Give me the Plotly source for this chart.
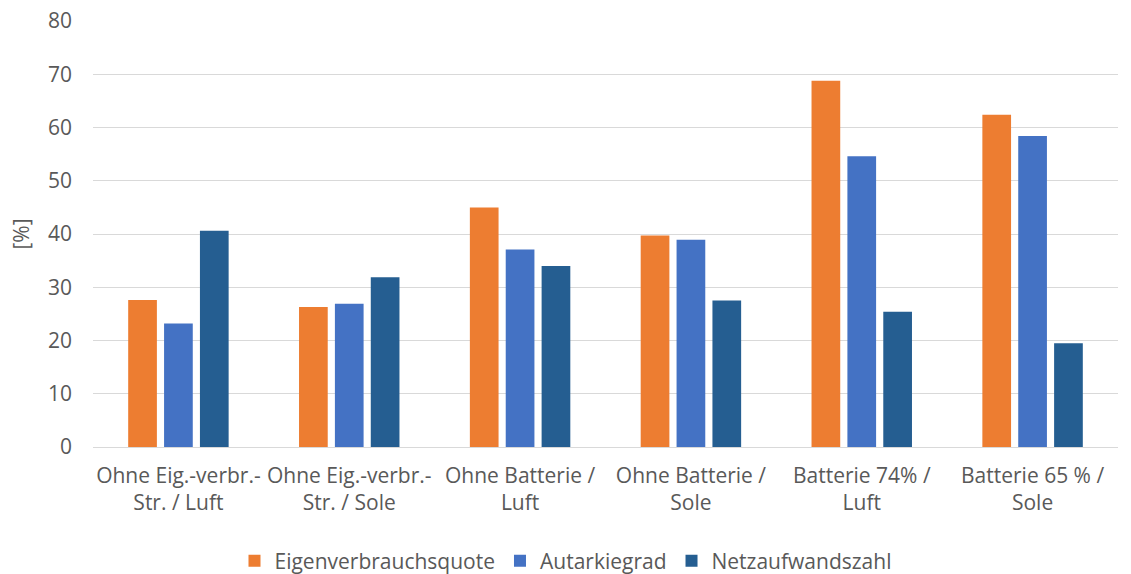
import plotly.graph_objects as go

categories = ["Ohne Eig.-verbr.-<br>Str. / Luft", "Ohne Eig.-verbr.-<br>Str. / Sole",
              "Ohne Batterie /<br>Luft", "Ohne Batterie /<br>Sole",
              "Batterie 74% /<br>Luft", "Batterie 65 % /<br>Sole"]
eigenverbrauchsquote = [27.6, 26.3, 45.0, 39.7, 68.8, 62.4]
autarkiegrad = [23.2, 26.9, 37.1, 38.9, 54.6, 58.4]
netzaufwandszahl = [40.6, 31.9, 34.0, 27.5, 25.4, 19.5]
y_ticks = [0, 10, 20, 30, 40, 50, 60, 70, 80]

FONT = "'Open Sans', Lato, sans-serif"
TXT = "#595959"
FS = 21

fig = go.Figure()
for name, vals, col in [("Eigenverbrauchsquote", eigenverbrauchsquote, "#ED7D31"),
                        ("Autarkiegrad", autarkiegrad, "#4472C4"),
                        ("Netzaufwandszahl", netzaufwandszahl, "#255E91")]:
    fig.add_trace(go.Bar(x=categories, y=vals, name=name, marker_color=col,
                         marker_line_width=0))

fig.update_layout(
    width=1131, height=574,
    margin=dict(l=93, r=13, t=21, b=127),
    paper_bgcolor="white", plot_bgcolor="white",
    barmode="group", bargap=0.37, bargroupgap=0.2,
    font=dict(family=FONT, size=FS, color=TXT),
    showlegend=True,
    legend=dict(orientation="h", x=0.5, xanchor="center", xref="container",
                y=0.0226, yanchor="middle", yref="container",
                font=dict(size=FS, color=TXT), itemwidth=30, traceorder="normal"),
    xaxis=dict(showgrid=False, showline=False, ticks="", automargin=False,
               ticklabelstandoff=14, tickfont=dict(size=FS, color=TXT)),
    yaxis=dict(range=[0, 80], tickvals=y_ticks, showgrid=True, gridcolor="#D9D9D9",
               gridwidth=1, zeroline=True, zerolinecolor="#D9D9D9", zerolinewidth=1,
               ticks="", automargin=False, ticklabelstandoff=20,
               tickfont=dict(size=FS, color=TXT),
               title=dict(text="[%]", font=dict(size=FS, color=TXT), standoff=12)),
)

fig.write_html("out.html", config={"displayModeBar": False},
               post_script="document.body.style.margin='0';document.body.style.padding='0';")
